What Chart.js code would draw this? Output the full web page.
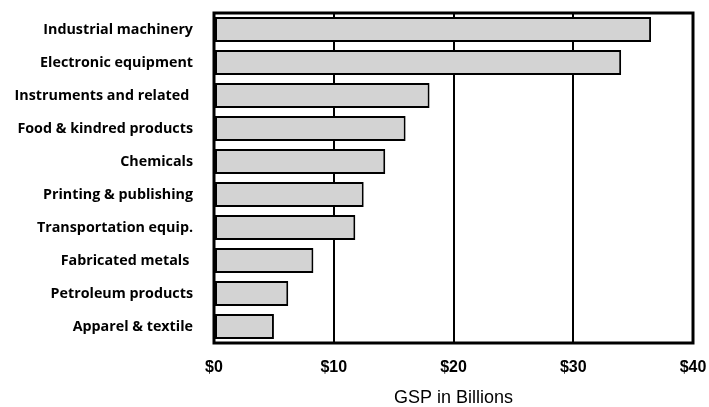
<!DOCTYPE html>
<html>
<head>
<meta charset="utf-8">
<title>Manufacturing GSP by industry</title>
<script src="https://cdn.jsdelivr.net/npm/chart.js@4"></script>
<style>
  html, body { margin: 0; padding: 0; background: #fff; }
  #wrap { width: 709px; height: 407px; }
</style>
</head>
<body>
<div id="wrap"><canvas id="gsp" width="709" height="407"></canvas></div>
<script>
// industries, largest first (trailing spaces are kept on purpose)
const industries = [
  'Industrial machinery',
  'Electronic equipment',
  'Instruments and related ',
  'Food & kindred products',
  'Chemicals',
  'Printing & publishing',
  'Transportation equip.',
  'Fabricated metals ',
  'Petroleum products',
  'Apparel & textile'
];
// gross state product, billions of dollars
const gspBillions = [36.5, 34.0, 18.0, 16.0, 14.3, 12.5, 11.8, 8.3, 6.2, 5.0];
const xTicks = [0, 10, 20, 30, 40];

// heavy black box around the plot area
const frame = {
  id: 'frame',
  afterDatasetsDraw(chart) {
    const { ctx, chartArea: a } = chart;
    ctx.save();
    ctx.strokeStyle = '#000';
    ctx.lineWidth = 3;
    ctx.strokeRect(a.left, a.top, a.right - a.left, a.bottom - a.top);
    ctx.restore();
  }
};

// stop the axes from pushing the plot area in for overhanging labels
function noOverhang(scale) {
  scale.paddingTop = 0;
  scale.paddingBottom = 0;
  scale.paddingLeft = 0;
  scale.paddingRight = 0;
}

new Chart(document.getElementById('gsp'), {
  type: 'bar',
  data: {
    labels: industries,
    datasets: [{
      data: gspBillions,
      backgroundColor: '#d3d3d3',
      borderColor: '#000',
      borderWidth: 2,
      borderSkipped: false,
      categoryPercentage: 1,
      barPercentage: 0.76
    }]
  },
  options: {
    indexAxis: 'y',
    responsive: false,
    animation: false,
    layout: { padding: { top: 13, right: 16, left: 0, bottom: 0 } },
    plugins: { legend: { display: false }, tooltip: { enabled: false } },
    scales: {
      x: {
        min: 0,
        max: 40,
        afterBuildTicks(scale) { scale.ticks = xTicks.map(v => ({ value: v })); },
        afterFit(scale) { scale.height = 407 - 343; noOverhang(scale); },
        grid: { color: '#000', lineWidth: 2, drawTicks: false },
        border: { display: false },
        ticks: {
          padding: 15,
          maxRotation: 0,
          color: '#000',
          font: { family: 'Liberation Sans', weight: 'bold', size: 16 },
          callback: v => '$' + v
        },
        title: {
          display: true,
          text: 'GSP in Billions',
          color: '#000',
          font: { family: 'Liberation Sans', size: 18, lineHeight: 1 },
          padding: { top: 0, bottom: 0 }
        }
      },
      y: {
        afterFit(scale) { scale.width = 214; noOverhang(scale); },
        grid: { display: false, drawTicks: false },
        border: { display: false },
        ticks: {
          padding: 21,
          color: '#000',
          font: { family: 'Open Sans', weight: 'bold', size: 14.3 }
        }
      }
    }
  },
  plugins: [frame]
});
</script>
</body>
</html>
